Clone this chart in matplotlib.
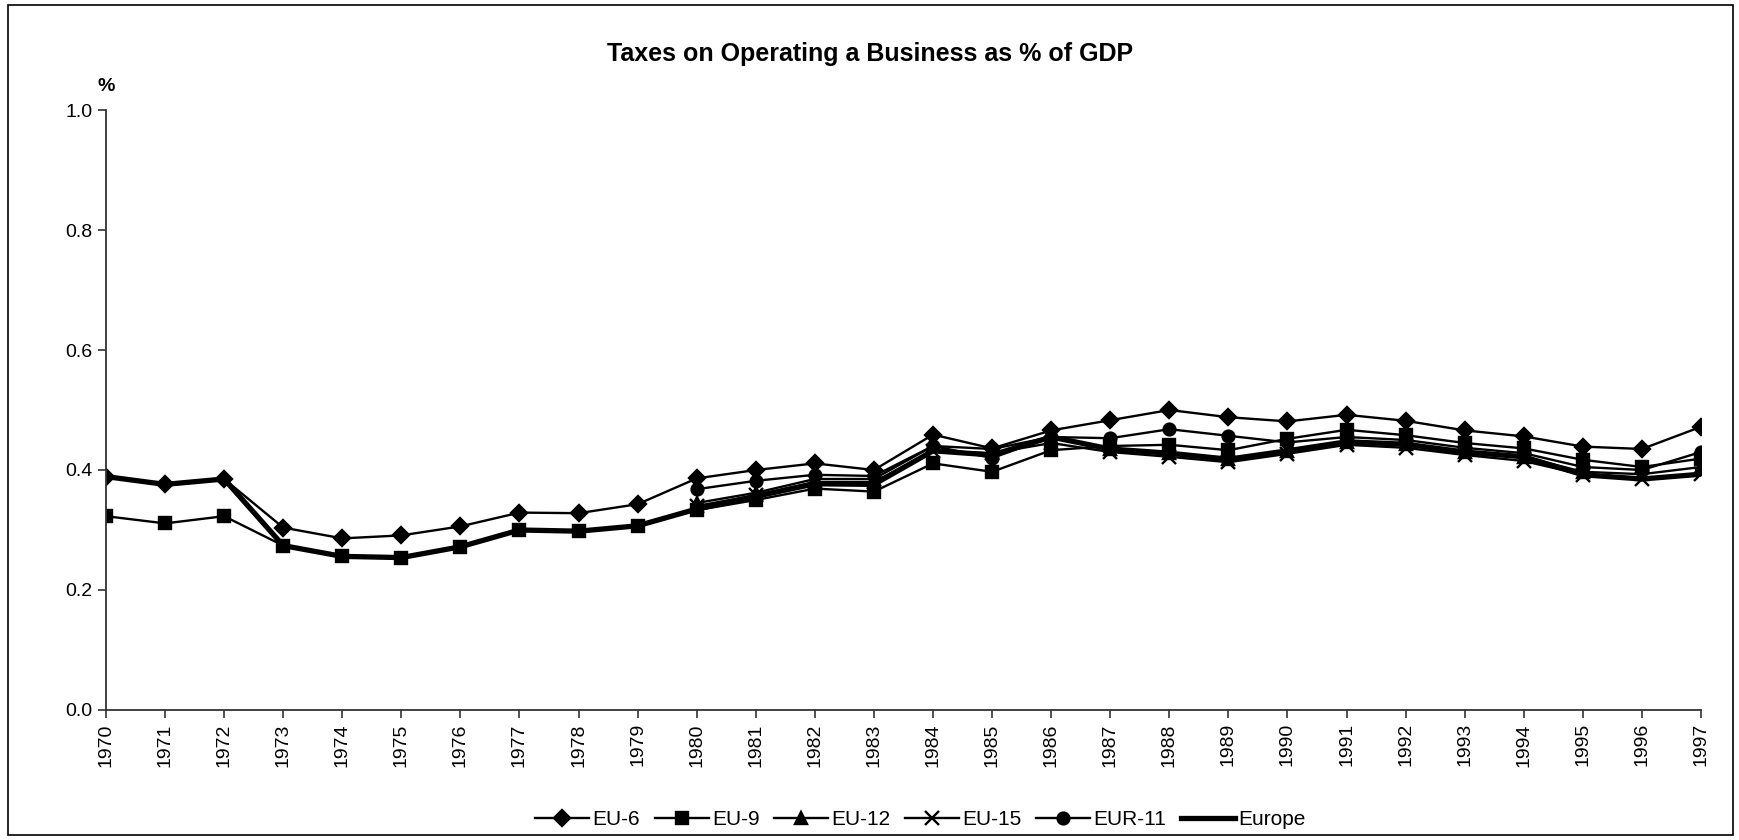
import numpy as np
import matplotlib
matplotlib.use("Agg")
import matplotlib.pyplot as plt
from matplotlib.patches import Rectangle

plt.rcParams['font.family'] = ['Liberation Sans', 'DejaVu Sans']

years = list(range(1970, 1998))
nan = np.nan

# values (% of GDP)
eu6 = [0.389, 0.376, 0.385, 0.304, 0.286, 0.291, 0.306, 0.329, 0.328, 0.343,
       0.386, 0.400, 0.411, 0.400, 0.459, 0.436, 0.466, 0.483, 0.500, 0.488,
       0.481, 0.492, 0.482, 0.466, 0.456, 0.439, 0.435, 0.472]
eu9 = [0.323, 0.311, 0.323, 0.274, 0.256, 0.254, 0.272, 0.300, 0.298, 0.307,
       0.333, 0.350, 0.369, 0.364, 0.411, 0.397, 0.433, 0.440, 0.442, 0.433,
       0.452, 0.467, 0.458, 0.445, 0.436, 0.417, 0.405, 0.419]
eu12 = [nan] * 10 + [0.345, 0.362, 0.385, 0.385, 0.440, 0.435, 0.455, 0.435,
                     0.428, 0.418, 0.432, 0.447, 0.443, 0.430, 0.422, 0.397,
                     0.393, 0.405]
eu15 = [nan] * 10 + [0.340, 0.358, 0.380, 0.380, 0.432, 0.428, 0.445, 0.430,
                     0.422, 0.413, 0.427, 0.442, 0.437, 0.425, 0.415, 0.392,
                     0.385, 0.393]
eur11 = [nan] * 10 + [0.368, 0.382, 0.392, 0.390, 0.440, 0.420, 0.455, 0.453,
                      0.468, 0.457, 0.446, 0.455, 0.450, 0.437, 0.428, 0.405,
                      0.400, 0.430]
europe = [0.389, 0.376, 0.385, 0.274, 0.256, 0.254, 0.272, 0.300, 0.298, 0.307,
          0.335, 0.356, 0.377, 0.376, 0.432, 0.425, 0.455, 0.435, 0.428, 0.418,
          0.432, 0.447, 0.443, 0.430, 0.422, 0.392, 0.385, 0.393]

series = [("EU-6", eu6, "D"), ("EU-9", eu9, "s"), ("EU-12", eu12, "^"),
          ("EU-15", eu15, "x"), ("EUR-11", eur11, "o")]

fig = plt.figure(figsize=(17.4, 8.4), dpi=100)
ax = fig.add_axes([0.0609, 0.1548, 0.9167, 0.7142])

for name, vals, mk in series:
    ax.plot(years, np.array(vals, dtype=float), color='black', linewidth=1.7,
            marker=mk, markersize=8.5 if mk != "x" else 9.5, markeredgewidth=1.7,
            label=name)
ax.plot(years, europe, color='black', linewidth=3.8, label="Europe")

ax.set_xlim(1970, 1997)
ax.set_ylim(0, 1.0)
ax.set_yticks([0.0, 0.2, 0.4, 0.6, 0.8, 1.0])
ax.set_yticklabels([f"{v:.1f}" for v in [0.0, 0.2, 0.4, 0.6, 0.8, 1.0]], fontsize=14)
ax.set_xticks(years)
ax.set_xticklabels([str(y) for y in years], rotation=90, fontsize=14)
ax.tick_params(direction='out', length=6, width=1.2, color='#333333')
for s in ['top', 'right']:
    ax.spines[s].set_visible(False)
for s in ['left', 'bottom']:
    ax.spines[s].set_linewidth(1.3)
ax.spines['left'].set_color('#333333')
ax.spines['bottom'].set_color('#333333')

fig.text(0.5, 0.936, "Taxes on Operating a Business as % of GDP",
         ha='center', va='center', fontsize=18, fontweight='bold')
ax.text(0.0, 1.04, "%", transform=ax.transAxes, ha='center', va='center',
        fontsize=14, fontweight='bold')

fig.legend(loc='center', bbox_to_anchor=(0.529, 0.024), ncol=6, frameon=False,
           fontsize=15, handlelength=2.6, columnspacing=0.7, handletextpad=0.15)

fig.patches.append(Rectangle((8 / 1740, 5 / 840), 1725 / 1740, 830 / 840,
                             transform=fig.transFigure, fill=False,
                             edgecolor='black', linewidth=1.2))

fig.savefig("out.png", dpi=100)
